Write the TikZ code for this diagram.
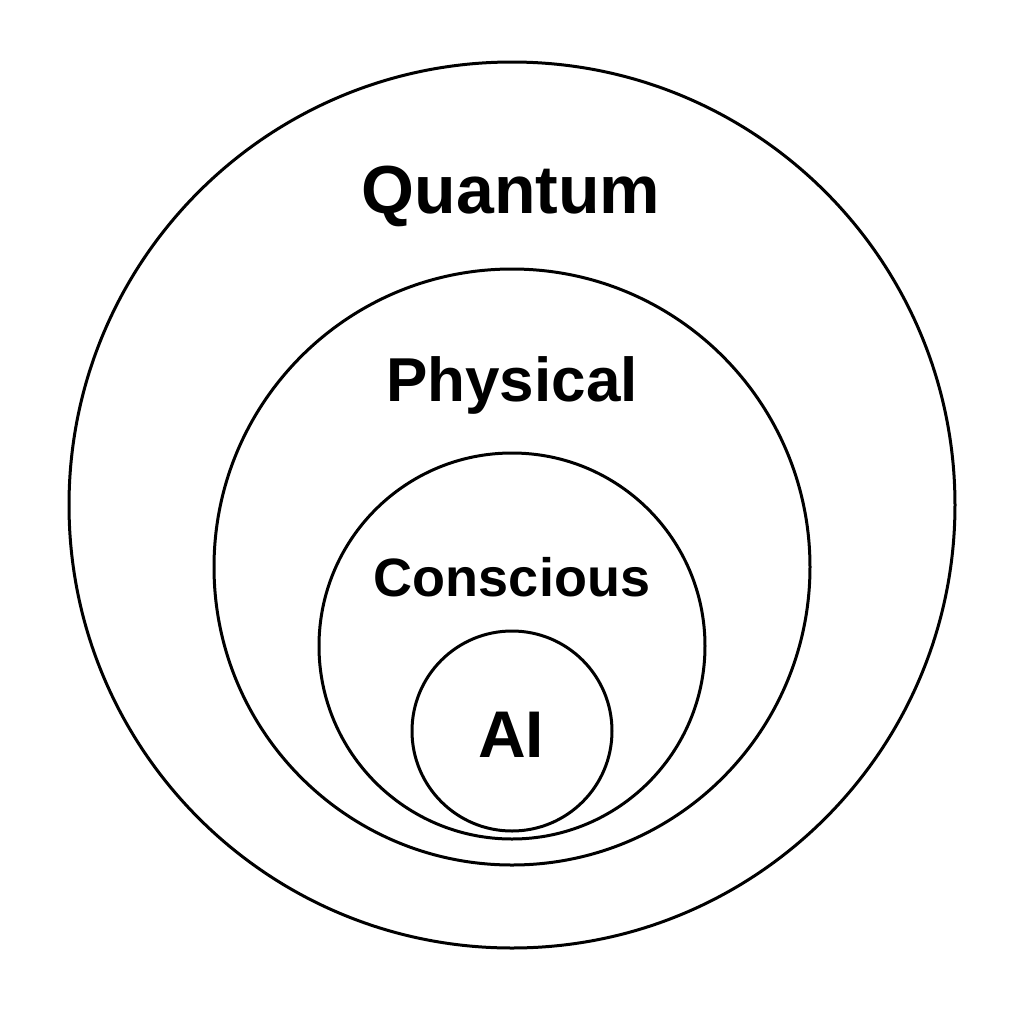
\documentclass[tikz,border=0pt]{standalone}
\usepackage{fontspec}
\setmainfont{Liberation Sans}
\usetikzlibrary{positioning}
\tikzset{ring/.style={circle, draw, line width=1.5pt, inner sep=0pt}}
\begin{document}
\begin{tikzpicture}[x=0.5pt,y=-0.5pt]
	\useasboundingbox [fill=white] (0,0) rectangle (1024,1024);
	\node (quantum) [ring, minimum size=443pt] at (512,505) {};
	\node (physical) [ring, minimum size=298pt] at (512,567) {};
	\node (conscious) [ring, minimum size=193pt] at (512,646) {};
	\node (ai) [ring, minimum size=100pt] at (512,731) {};
	\node (lq) at (511,196) {\fontsize{34}{34}\selectfont\bfseries Quantum};
	\node (lp) at (512,385) {\fontsize{31}{31}\selectfont\bfseries Physical};
	\node (lc) at (512,577) {\fontsize{27}{27}\selectfont\bfseries Conscious};
	\node (la) at (511,735) {\fontsize{33}{33}\selectfont\bfseries AI};
\end{tikzpicture}
\end{document}
